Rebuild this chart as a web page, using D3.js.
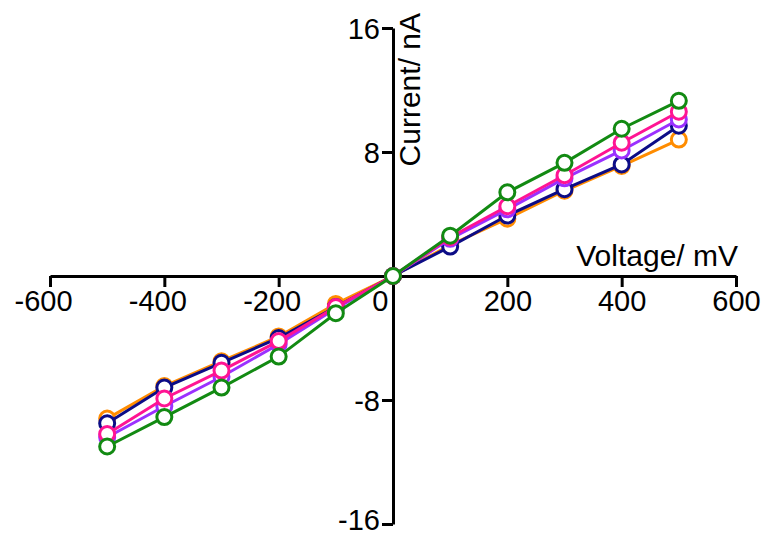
<!DOCTYPE html>
<html>
<head>
<meta charset="utf-8">
<script src="https://cdn.jsdelivr.net/npm/d3@7"></script>
<style>
  body { margin: 0; background: #fff; }
  svg { display: block; font-family: "Liberation Sans", Arial, sans-serif; }
</style>
</head>
<body>
<div id="chart"></div>
<script>
// data
const voltages = [-500, -400, -300, -200, -100, 0, 100, 200, 300, 400, 500];
const orangeVals = [-9.2, -7.1, -5.5, -3.9, -1.8, 0, 2.0, 3.7, 5.5, 7.1, 8.8];
const navyVals = [-9.5, -7.2, -5.6, -4.0, -2.0, 0, 1.9, 3.9, 5.6, 7.2, 9.7];
const purpleVals = [-10.4, -8.4, -6.5, -4.4, -2.1, 0, 2.4, 4.3, 6.3, 8.1, 10.1];
const pinkVals = [-10.2, -7.9, -6.1, -4.2, -2.0, 0, 2.5, 4.5, 6.5, 8.6, 10.6];
const greenVals = [-11.0, -9.1, -7.2, -5.2, -2.4, 0, 2.6, 5.4, 7.3, 9.5, 11.3];
const xTicks = [-600, -400, -200, 0, 200, 400, 600];
const yTicks = [-16, -8, 8, 16];

const series = [
  { name: "orange", color: "#ff8c00", values: orangeVals },
  { name: "navy", color: "#0c0c86", values: navyVals },
  { name: "purple", color: "#9b30ff", values: purpleVals },
  { name: "pink", color: "#ff1493", values: pinkVals },
  { name: "green", color: "#128a12", values: greenVals }
];

const width = 765, height = 535;
const svg = d3.select("#chart").append("svg")
  .attr("width", width)
  .attr("height", height);

const x = d3.scaleLinear().domain([-600, 600]).range([50, 736]);
const y = d3.scaleLinear().domain([-16, 16]).range([524, 28]);

const fmt = d => d < 0 ? "-" + Math.abs(d) : d;

// x axis through y = 0
const gx = svg.append("g")
  .attr("transform", `translate(0,${y(0)})`)
  .call(d3.axisBottom(x).tickValues(xTicks).tickSize(11).tickSizeOuter(0).tickFormat(fmt));
gx.select(".domain").attr("stroke-width", 3);
gx.selectAll(".tick line").attr("stroke-width", 3);
gx.selectAll(".tick text")
  .attr("font-size", 29)
  .attr("fill", "#000")
  .attr("y", 0)
  .attr("dy", 35)
  .attr("dx", d => d < 0 ? -7 : 0)
  .filter(d => d === 0)
  .attr("text-anchor", "end")
  .attr("dx", -5);

// y axis through x = 0
const gy = svg.append("g")
  .attr("transform", `translate(${x(0)},0)`)
  .call(d3.axisLeft(y).tickValues(yTicks).tickSize(11).tickSizeOuter(0).tickFormat(fmt));
gy.select(".domain").attr("stroke-width", 3);
gy.selectAll(".tick line").attr("stroke-width", 3);
gy.selectAll(".tick text")
  .attr("font-size", 29)
  .attr("fill", "#000")
  .attr("x", -13)
  .attr("dy", d => d === -16 ? "0.2em" : "0.36em");

// axis titles
svg.append("text")
  .attr("x", 738)
  .attr("y", 266)
  .attr("text-anchor", "end")
  .attr("font-size", 30)
  .text("Voltage/ mV");

svg.append("text")
  .attr("transform", `translate(420,13) rotate(-90)`)
  .attr("text-anchor", "end")
  .attr("font-size", 30)
  .text("Current/ nA");

const line = d3.line()
  .x((d, i) => x(voltages[i]))
  .y(d => y(d));

series.forEach(s => {
  const g = svg.append("g").attr("class", "series-" + s.name);
  g.append("path")
    .datum(s.values)
    .attr("fill", "none")
    .attr("stroke", s.color)
    .attr("stroke-width", 3)
    .attr("d", line);
  g.selectAll("circle")
    .data(s.values)
    .enter()
    .append("circle")
    .attr("cx", (d, i) => x(voltages[i]))
    .attr("cy", d => y(d))
    .attr("r", 7.5)
    .attr("fill", "#fff")
    .attr("stroke", s.color)
    .attr("stroke-width", 3);
});
</script>
</body>
</html>
